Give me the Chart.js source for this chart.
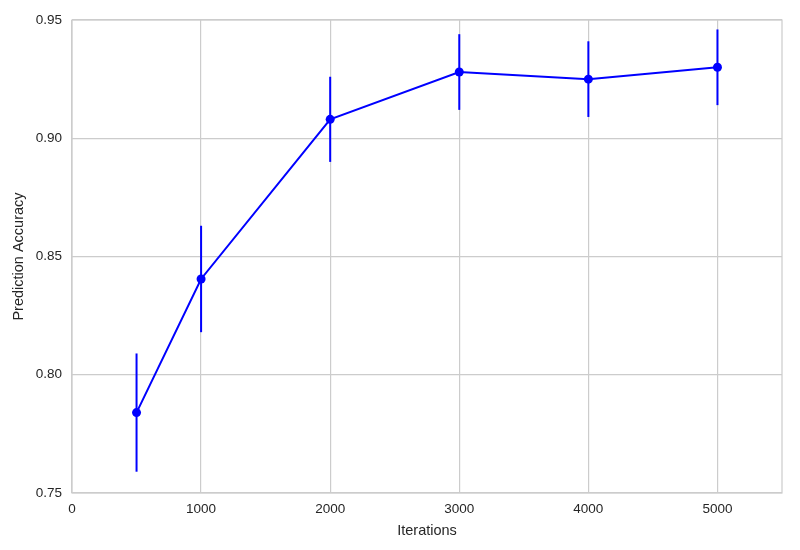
<!DOCTYPE html>
<html>
<head>
<meta charset="utf-8">
<script src="https://cdn.jsdelivr.net/npm/chart.js@4.4.0/dist/chart.umd.min.js"></script>
<style>
    html, body { margin: 0; padding: 0; background: #ffffff; }
    #wrap { width: 800px; height: 550px; }
</style>
</head>
<body>
<div id="wrap"><canvas id="accuracyChart"></canvas></div>
<script>
// Data
const iterations = [500, 1000, 2000, 3000, 4000, 5000];
const accuracy = [0.784, 0.8405, 0.908, 0.928, 0.925, 0.930];
const accuracyErr = [0.025, 0.0225, 0.018, 0.016, 0.016, 0.016];
const xTicks = [0, 1000, 2000, 3000, 4000, 5000];
const yTicks = [0.75, 0.80, 0.85, 0.90, 0.95];

const gridColor = '#cccccc';
const textColor = '#262626';
const lineColor = '#0000ff';

// Vertical error bars, drawn through the chart's own scales
const errorBars = {
    id: 'errorBars',
    afterDatasetsDraw(chart) {
        const ctx = chart.ctx;
        const xs = chart.scales.x;
        const ys = chart.scales.y;
        ctx.save();
        ctx.strokeStyle = lineColor;
        ctx.lineWidth = 2;
        iterations.forEach((it, i) => {
            const px = xs.getPixelForValue(it);
            ctx.beginPath();
            ctx.moveTo(px, ys.getPixelForValue(accuracy[i] + accuracyErr[i]));
            ctx.lineTo(px, ys.getPixelForValue(accuracy[i] - accuracyErr[i]));
            ctx.stroke();
        });
        ctx.restore();
    }
};

// Light frame around the plot area (all four spines)
const frame = {
    id: 'frame',
    beforeDatasetsDraw(chart) {
        const { ctx, chartArea: a } = chart;
        ctx.save();
        ctx.strokeStyle = gridColor;
        ctx.lineWidth = 1.2;
        ctx.strokeRect(a.left, a.top, a.right - a.left, a.bottom - a.top);
        ctx.restore();
    }
};

document.addEventListener('DOMContentLoaded', () => {
    const ctx = document.getElementById('accuracyChart').getContext('2d');
    new Chart(ctx, {
        type: 'line',
        data: {
            datasets: [{
                data: iterations.map((x, i) => ({ x: x, y: accuracy[i] })),
                borderColor: lineColor,
                backgroundColor: lineColor,
                borderWidth: 2,
                pointRadius: 4.5,
                pointHoverRadius: 4.5,
                pointBorderWidth: 0,
                tension: 0,
                fill: false
            }]
        },
        options: {
            responsive: true,
            maintainAspectRatio: false,
            animation: false,
            layout: { padding: { left: 10, right: 18, top: 20, bottom: 10 } },
            plugins: {
                legend: { display: false },
                tooltip: { enabled: false }
            },
            scales: {
                x: {
                    type: 'linear',
                    min: 0,
                    max: 5500,
                    afterBuildTicks: (scale) => {
                        scale.ticks = xTicks.map(v => ({ value: v }));
                    },
                    afterFit: (scale) => { scale.height = 47; },
                    ticks: {
                        color: textColor,
                        font: { family: 'Liberation Sans', size: 13.5 },
                        padding: 8,
                        maxRotation: 0,
                        callback: (v) => String(v)
                    },
                    grid: { color: gridColor, lineWidth: 1.2, drawTicks: false },
                    border: { display: false },
                    title: {
                        display: true,
                        text: 'Iterations',
                        color: textColor,
                        font: { family: 'Liberation Sans', size: 14.5 },
                        padding: { top: 4, bottom: 0 }
                    }
                },
                y: {
                    type: 'linear',
                    min: 0.75,
                    max: 0.95,
                    afterBuildTicks: (scale) => {
                        scale.ticks = yTicks.map(v => ({ value: v }));
                    },
                    afterFit: (scale) => { scale.width = 62; },
                    ticks: {
                        color: textColor,
                        font: { family: 'Liberation Sans', size: 13.5 },
                        padding: 10,
                        callback: (v) => v.toFixed(2)
                    },
                    grid: { color: gridColor, lineWidth: 1.2, drawTicks: false },
                    border: { display: false },
                    title: {
                        display: true,
                        text: 'Prediction Accuracy',
                        color: textColor,
                        font: { family: 'Liberation Sans', size: 14.5 },
                        padding: { top: 0, bottom: 6 }
                    }
                }
            }
        },
        plugins: [frame, errorBars]
    });
});
</script>
</body>
</html>
